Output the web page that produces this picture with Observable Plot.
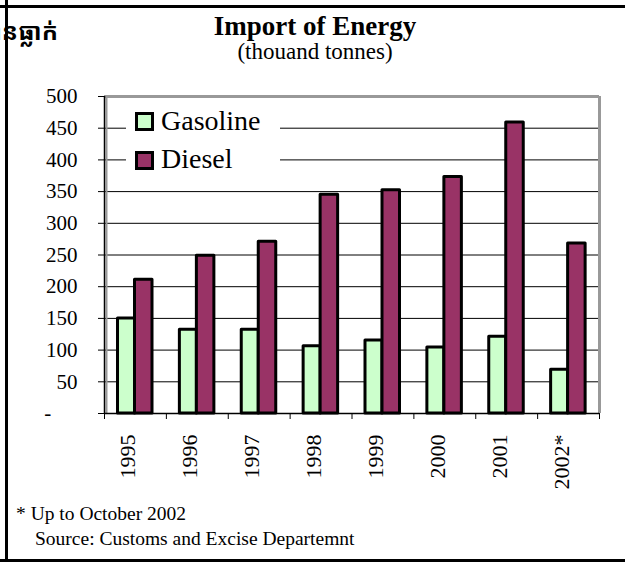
<!DOCTYPE html>
<html>
<head>
<meta charset="utf-8">
<script src="https://cdn.jsdelivr.net/npm/d3@7"></script>
<script src="https://cdn.jsdelivr.net/npm/@observablehq/plot@0.6"></script>
<style>
  html, body { margin: 0; padding: 0; background: #fff; }
  #page { position: relative; width: 625px; height: 562px; overflow: hidden; background: #fff;
          font-family: "Liberation Serif", "Times New Roman", serif; color: #000; }
  #chart { position: absolute; left: 0; top: 0; }
  #chart svg text { font-family: "Liberation Serif", "Times New Roman", serif; }
  .abs { position: absolute; white-space: nowrap; line-height: 1; }
  #title { left: 0; width: 630px; text-align: center; top: 13px; font-size: 27px; font-weight: bold; }
  #subtitle { left: 0; width: 630px; text-align: center; top: 40px; font-size: 23px; }
  #khmer { right: 567px; top: 19px; font-size: 24px; font-weight: bold;
           font-family: "Noto Sans Khmer", "Khmer OS", "Noto Sans", sans-serif; }
  #legend { position: absolute; left: 126px; top: 104px; width: 154px; height: 70px; background: #fff; }
  .sw { position: absolute; width: 19px; height: 19px; box-sizing: border-box; border: 3px solid #000; }
  .lt { position: absolute; font-size: 28px; line-height: 1; white-space: nowrap; }
  #note1 { left: 16px; top: 504px; font-size: 19.5px; }
  #note2 { left: 35px; top: 529px; font-size: 19.5px; }
  .bline { position: absolute; background: #000; }
</style>
</head>
<body>
<div id="page">
  <div id="chart"></div>
  <div id="khmer" class="abs">បានធ្លាក់</div>
  <div id="title" class="abs">Import of Energy</div>
  <div id="subtitle" class="abs">(thouand tonnes)</div>
  <div id="legend"></div>
  <div id="note1" class="abs">* Up to October 2002</div>
  <div id="note2" class="abs">Source: Customs and Excise Departemnt</div>
  <div class="bline" style="left:0;top:5px;width:625px;height:3px"></div>
  <div class="bline" style="left:5px;top:0;width:3px;height:562px"></div>
  <div class="bline" style="left:0;top:559px;width:625px;height:3px"></div>
</div>
<script>
// ---- data ----
const years = ["1995", "1996", "1997", "1998", "1999", "2000", "2001", "2002*"];
const gasoline = [150, 132, 132, 106, 115, 104, 121, 69];
const diesel = [211, 249, 271, 345, 352, 373, 459, 268];
const seriesNames = ["Gasoline", "Diesel"];
const seriesColors = ["#ccffcc", "#993366"];
const yTicks = [0, 50, 100, 150, 200, 250, 300, 350, 400, 450, 500];
const yTickLabels = ["-", "50", "100", "150", "200", "250", "300", "350", "400", "450", "500"];

// ---- layout ----
const W = 625, H = 510, mL = 104, mR = 26, mT = 96, mB = H - 413;
const bw = (W - mL - mR) / years.length;
const serif = "Liberation Serif, Times New Roman, serif";

const gasRows = years.map((y, i) => ({year: y, series: "Gasoline", value: gasoline[i]}));
const dieRows = years.map((y, i) => ({year: y, series: "Diesel", value: diesel[i]}));

const chart = Plot.plot({
  width: W, height: H,
  marginLeft: mL, marginRight: mR, marginTop: mT, marginBottom: mB,
  style: {fontFamily: serif, fontSize: "21px", color: "#000", background: "transparent", overflow: "visible"},
  x: {domain: years, padding: 0, round: false, axis: null, label: null},
  y: {domain: [0, 500], axis: null, label: null},
  color: {domain: seriesNames, range: seriesColors},
  marks: [
    Plot.gridY(yTicks.filter(v => v > 0 && v < 500), {stroke: "#000", strokeOpacity: 1, strokeWidth: 1}),
    Plot.ruleY([500], {stroke: "#999", strokeWidth: 3}),
    Plot.ruleX([years[years.length - 1]], {dx: bw / 2, stroke: "#999", strokeWidth: 3, y1: 0, y2: 500}),
    Plot.ruleX([years[0]], {dx: -bw / 2 + 2, stroke: "#999", strokeWidth: 2, y1: 0, y2: 500}),
    Plot.barY(gasRows, {x: "year", y: "value", fill: "series", stroke: "#000", strokeWidth: 3, strokeLinejoin: "round", insetLeft: 13.5, insetRight: bw - 30.5}),
    Plot.barY(dieRows, {x: "year", y: "value", fill: "series", stroke: "#000", strokeWidth: 3, strokeLinejoin: "round", insetLeft: 30.5, insetRight: bw - 48}),
    Plot.ruleY([0], {stroke: "#000", strokeWidth: 1.5}),
    Plot.ruleX([years[0]], {dx: -bw / 2, stroke: "#000", strokeWidth: 1.5, y1: 0, y2: 500}),
    Plot.axisY(yTicks, {
      tickSize: 6, tickPadding: 21, fontSize: 21, fontFamily: serif, label: null,
      tickFormat: d => { const s = yTickLabels[yTicks.indexOf(d)]; return s === "-" ? s + "\u00a0\u00a0\u00a0\u00a0\u00a0" : s; }
    }),
    Plot.axisX(years, {tickSize: 6, dx: -bw / 2, text: null, label: null}),
    Plot.axisX([years[years.length - 1]], {tickSize: 6, dx: bw / 2, text: null, label: null}),
    Plot.text(years, {x: d => d, frameAnchor: "bottom", rotate: -90, textAnchor: "end", dy: 21, fontSize: 22, fontFamily: serif})
  ]
});
document.getElementById("chart").appendChild(chart);

// legend
const leg = document.getElementById("legend");
seriesNames.forEach((name, i) => {
  const sw = document.createElement("div");
  sw.className = "sw";
  sw.style.left = "9px";
  sw.style.top = (8 + i * 39) + "px";
  sw.style.background = seriesColors[i];
  leg.appendChild(sw);
  const t = document.createElement("div");
  t.className = "lt";
  t.style.left = "35px";
  t.style.top = (3 + i * 38) + "px";
  t.textContent = name;
  leg.appendChild(t);
});
</script>
</body>
</html>
